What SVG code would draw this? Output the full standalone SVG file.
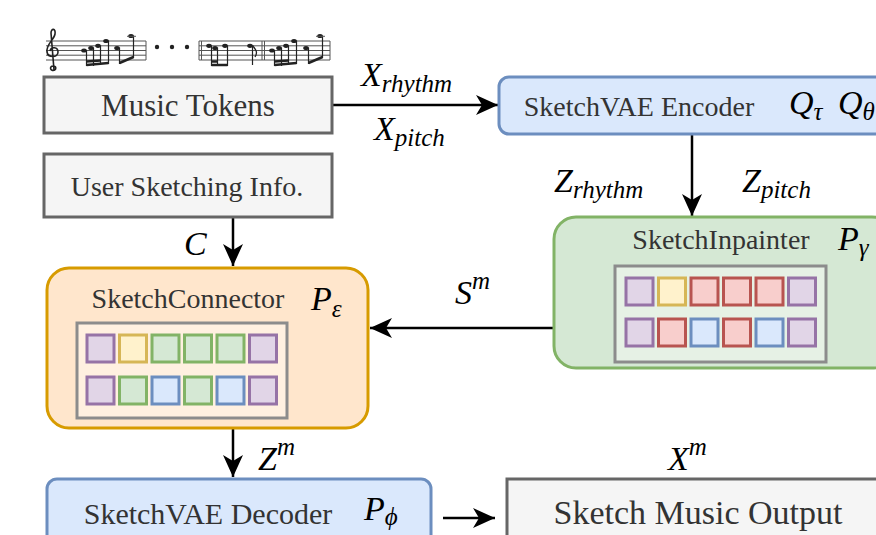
<svg xmlns="http://www.w3.org/2000/svg" width="876" height="535" viewBox="0 0 876 535">
<style>
.lbl{font-family:"Liberation Serif","Times New Roman",serif;fill:#333;}
.m{font-family:"Liberation Serif","Times New Roman",serif;font-style:italic;fill:#000;font-size:34px;}
.sub{font-size:25px;}
.gray{fill:#f5f5f5;stroke:#666;stroke-width:3;}
.blue{fill:#dae8fc;stroke:#6c8ebf;stroke-width:3;}
.green{fill:#d5e8d4;stroke:#82b366;stroke-width:3;}
.orange{fill:#ffe6cc;stroke:#d79b00;stroke-width:3;}
.inner{fill:#fff;fill-opacity:0.4;stroke:#8c8c8c;stroke-width:3;}
.sq{stroke-width:3;}
.pu{fill:#e1d5e7;stroke:#9673a6;}
.ye{fill:#fff2cc;stroke:#d6b656;}
.re{fill:#f8cecc;stroke:#b85450;}
.gr{fill:#d5e8d4;stroke:#82b366;}
.bl{fill:#dae8fc;stroke:#6c8ebf;}
.conn{stroke:#000;stroke-width:2.5;fill:none;}
.staff{stroke:#555;stroke-width:1;}
.note{fill:#222;}
.stem{stroke:#222;stroke-width:1.2;}
.beam{stroke:#222;stroke-width:2.5;}
</style>
<defs>
<marker id="ah" markerUnits="userSpaceOnUse" markerWidth="24" markerHeight="20" refX="22" refY="10" orient="auto">
<path d="M0,0 L22,10 L0,20 L6,10 z" fill="#000"/>
</marker>
</defs>

<g id="music-notation">
<g class="staff">
<line x1="46" y1="41" x2="146" y2="41"/><line x1="46" y1="45.8" x2="146" y2="45.8"/><line x1="46" y1="50.5" x2="146" y2="50.5"/><line x1="46" y1="55.2" x2="146" y2="55.2"/><line x1="46" y1="60" x2="146" y2="60"/>
<line x1="146" y1="41" x2="146" y2="60"/>
<line x1="199" y1="41" x2="330" y2="41"/><line x1="199" y1="45.8" x2="330" y2="45.8"/><line x1="199" y1="50.5" x2="330" y2="50.5"/><line x1="199" y1="55.2" x2="330" y2="55.2"/><line x1="199" y1="60" x2="330" y2="60"/>
<line x1="199" y1="41" x2="199" y2="60"/><line x1="201.5" y1="41" x2="201.5" y2="60"/><line x1="262" y1="41" x2="262" y2="60"/><line x1="264.5" y1="41" x2="264.5" y2="60"/><line x1="330" y1="41" x2="330" y2="60"/>
</g>
<path d="M55,70 C50,72 49,66 53,66 C57,66 56,70 54,70 M54,70 L51,33 C51,28 56,28 55,34 C54,40 46,44 47,52 C48,58 58,58 58,52 C58,47 51,46 50,51" fill="none" stroke="#222" stroke-width="1.6"/>
<g>
<ellipse class="note" cx="84" cy="50.5" rx="2.8" ry="2.1"/><ellipse class="note" cx="91" cy="48" rx="2.8" ry="2.1"/><ellipse class="note" cx="98" cy="45.8" rx="2.8" ry="2.1"/><ellipse class="note" cx="106" cy="41" rx="2.8" ry="2.1"/>
<line class="stem" x1="86.5" y1="50" x2="86.5" y2="66"/><line class="stem" x1="93.5" y1="47.5" x2="93.5" y2="66"/><line class="stem" x1="100.5" y1="45.5" x2="100.5" y2="65"/><line class="stem" x1="108.5" y1="40.5" x2="108.5" y2="64"/>
<line class="beam" x1="86.5" y1="65" x2="108.5" y2="63"/><line class="beam" x1="86.5" y1="61.5" x2="100.5" y2="60.5"/>
<ellipse class="note" cx="117" cy="48" rx="2.8" ry="2.1"/><ellipse class="note" cx="131" cy="36" rx="2.8" ry="2.1"/>
<line class="stem" x1="119.5" y1="47.5" x2="119.5" y2="64"/><line class="stem" x1="133.5" y1="35.5" x2="133.5" y2="58"/><line class="staff" x1="127" y1="36.3" x2="136" y2="36.3"/>
<line class="beam" x1="119.5" y1="63" x2="133.5" y2="57"/>
</g>
<circle class="note" cx="157" cy="47" r="2.2"/><circle class="note" cx="172" cy="47" r="2.2"/><circle class="note" cx="187" cy="47" r="2.2"/>
<g>
<ellipse class="note" cx="209" cy="45.8" rx="2.8" ry="2.1"/><ellipse class="note" cx="215" cy="48" rx="2.8" ry="2.1"/><ellipse class="note" cx="225" cy="45.8" rx="2.8" ry="2.1"/>
<line class="stem" x1="211.5" y1="45.5" x2="211.5" y2="66"/><line class="stem" x1="217.5" y1="47.5" x2="217.5" y2="66"/><line class="stem" x1="227.5" y1="45.5" x2="227.5" y2="66"/>
<line class="beam" x1="211.5" y1="65" x2="227.5" y2="65"/><line class="beam" x1="211.5" y1="61.5" x2="217.5" y2="61.5"/>
<ellipse class="note" cx="250" cy="45.8" rx="2.8" ry="2.1"/><line class="stem" x1="252.5" y1="45.5" x2="252.5" y2="65"/><path d="M252.5,45.5 C256,50 258,52 255,57" fill="none" stroke="#222" stroke-width="1.3"/>
<ellipse class="note" cx="272" cy="50.5" rx="2.8" ry="2.1"/><ellipse class="note" cx="279" cy="48" rx="2.8" ry="2.1"/><ellipse class="note" cx="286" cy="45.8" rx="2.8" ry="2.1"/><ellipse class="note" cx="294" cy="41" rx="2.8" ry="2.1"/>
<line class="stem" x1="274.5" y1="50" x2="274.5" y2="66"/><line class="stem" x1="281.5" y1="47.5" x2="281.5" y2="66"/><line class="stem" x1="288.5" y1="45.5" x2="288.5" y2="65"/><line class="stem" x1="296.5" y1="40.5" x2="296.5" y2="64"/>
<line class="beam" x1="274.5" y1="65" x2="296.5" y2="63"/><line class="beam" x1="274.5" y1="61.5" x2="288.5" y2="60.5"/>
<ellipse class="note" cx="306" cy="48" rx="2.8" ry="2.1"/><ellipse class="note" cx="320" cy="36" rx="2.8" ry="2.1"/>
<line class="stem" x1="308.5" y1="47.5" x2="308.5" y2="64"/><line class="stem" x1="322.5" y1="35.5" x2="322.5" y2="58"/><line class="staff" x1="316" y1="36.3" x2="325" y2="36.3"/>
<line class="beam" x1="308.5" y1="63" x2="322.5" y2="57"/>
</g>
</g>

<g id="connectors">
<line class="conn" x1="333" y1="105" x2="498" y2="105" marker-end="url(#ah)"/>
<line class="conn" x1="692" y1="135" x2="692" y2="216" marker-end="url(#ah)"/>
<line class="conn" x1="553" y1="328" x2="370" y2="328" marker-end="url(#ah)"/>
<line class="conn" x1="233" y1="218" x2="233" y2="266" marker-end="url(#ah)"/>
<line class="conn" x1="233" y1="429" x2="233" y2="477" marker-end="url(#ah)"/>
<line class="conn" x1="443" y1="518" x2="495" y2="518" marker-end="url(#ah)"/>
<text class="m" x="361" y="86">X<tspan class="sub" dy="6">rhythm</tspan></text>
<text class="m" x="374" y="140">X<tspan class="sub" dy="6">pitch</tspan></text>
<text class="m" x="554" y="192">Z<tspan class="sub" dy="6">rhythm</tspan></text>
<text class="m" x="742" y="192">Z<tspan class="sub" dy="6">pitch</tspan></text>
<text class="m" x="455" y="304">S<tspan class="sub" dy="-15">m</tspan></text>
<text class="m" x="184" y="255">C</text>
<text class="m" x="258" y="470">Z<tspan class="sub" dy="-15">m</tspan></text>
<text class="m" x="668" y="470">X<tspan class="sub" dy="-15">m</tspan></text>
</g>

<g id="music-tokens">
<rect class="gray" x="44" y="77" width="288" height="56"/>
<text class="lbl" x="188" y="116" font-size="31" text-anchor="middle">Music Tokens</text>
</g>

<g id="user-sketching-info">
<rect class="gray" x="44" y="154" width="288" height="63"/>
<text class="lbl" x="187" y="196" font-size="28" text-anchor="middle">User Sketching Info.</text>
</g>

<g id="sketchvae-encoder">
<rect class="blue" x="499" y="77" width="390" height="57" rx="10"/>
<text class="lbl" x="639" y="116" font-size="28" text-anchor="middle">SketchVAE Encoder</text>
<text class="m" x="789" y="114" font-size="30">Q<tspan class="sub" dy="6" font-size="21">τ</tspan></text>
<text class="m" x="838" y="114" font-size="30">Q<tspan class="sub" dy="6" font-size="21">θ</tspan></text>
</g>

<g id="sketch-inpainter">
<rect class="green" x="554" y="217" width="340" height="151" rx="22"/>
<text class="lbl" x="721" y="249" font-size="28" text-anchor="middle">SketchInpainter</text>
<text class="m" x="838" y="250" font-size="32">P<tspan class="sub" dy="6" font-size="22">γ</tspan></text>
<rect class="inner" x="615" y="266" width="211" height="96"/>
<rect class="sq pu" x="626" y="278" width="27" height="27"/><rect class="sq ye" x="658.5" y="278" width="27" height="27"/><rect class="sq re" x="691" y="278" width="27" height="27"/><rect class="sq re" x="723.5" y="278" width="27" height="27"/><rect class="sq re" x="756" y="278" width="27" height="27"/><rect class="sq pu" x="788.5" y="278" width="27" height="27"/>
<rect class="sq pu" x="626" y="319" width="27" height="27"/><rect class="sq re" x="658.5" y="319" width="27" height="27"/><rect class="sq bl" x="691" y="319" width="27" height="27"/><rect class="sq re" x="723.5" y="319" width="27" height="27"/><rect class="sq bl" x="756" y="319" width="27" height="27"/><rect class="sq pu" x="788.5" y="319" width="27" height="27"/>
</g>

<g id="sketch-connector">
<rect class="orange" x="47" y="268" width="321" height="160" rx="22"/>
<text class="lbl" x="188" y="308" font-size="28" text-anchor="middle">SketchConnector</text>
<text class="m" x="311" y="310" font-size="34">P<tspan class="sub" dy="7" font-size="22">ε</tspan></text>
<rect class="inner" x="77" y="323" width="210" height="95"/>
<rect class="sq pu" x="87" y="335" width="27" height="27"/><rect class="sq ye" x="119.5" y="335" width="27" height="27"/><rect class="sq gr" x="152" y="335" width="27" height="27"/><rect class="sq gr" x="184.5" y="335" width="27" height="27"/><rect class="sq gr" x="217" y="335" width="27" height="27"/><rect class="sq pu" x="249.5" y="335" width="27" height="27"/>
<rect class="sq pu" x="87" y="377" width="27" height="27"/><rect class="sq gr" x="119.5" y="377" width="27" height="27"/><rect class="sq bl" x="152" y="377" width="27" height="27"/><rect class="sq gr" x="184.5" y="377" width="27" height="27"/><rect class="sq bl" x="217" y="377" width="27" height="27"/><rect class="sq pu" x="249.5" y="377" width="27" height="27"/>
</g>

<g id="sketchvae-decoder">
<rect class="blue" x="47" y="479" width="384" height="80" rx="10"/>
<text class="lbl" x="208" y="524" font-size="30" text-anchor="middle">SketchVAE Decoder</text>
<text class="m" x="364" y="520" font-size="34">P<tspan class="sub" dy="5" font-size="21">ϕ</tspan></text>
</g>

<g id="sketch-music-output">
<rect class="gray" x="507" y="479" width="400" height="80"/>
<text class="lbl" x="698" y="524" font-size="34" text-anchor="middle">Sketch Music Output</text>
</g>
</svg>
